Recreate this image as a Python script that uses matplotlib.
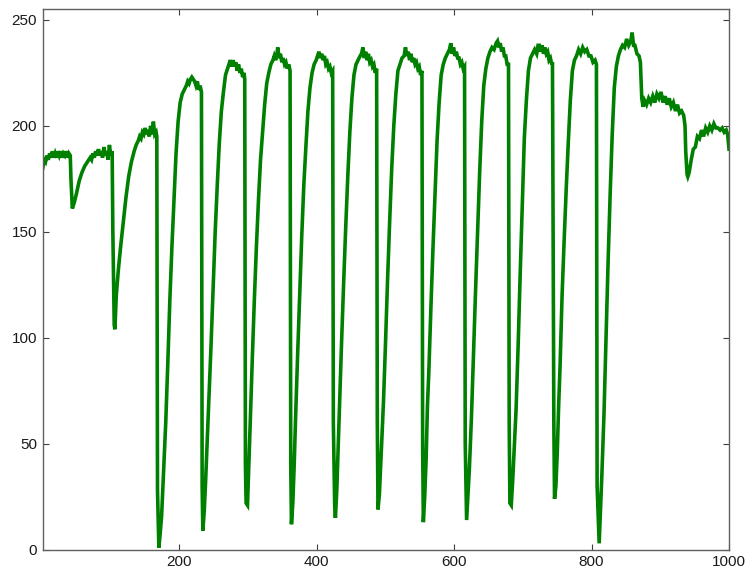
import numpy as np
import matplotlib
matplotlib.use("Agg")
import matplotlib.pyplot as plt

plt.rcParams["font.family"] = ["Liberation Sans", "DejaVu Sans"]

# Sample index / signal level, read section by section
lead_x = [1, 3, 5, 7, 9, 11, 13, 15, 17, 19, 21, 23, 25, 27, 29, 31, 33, 35, 37, 39, 41,
          42, 44, 47, 50, 54, 58, 62, 66, 70, 72, 74, 76, 78, 80, 82, 84, 86, 88, 90, 92,
          94, 96, 98, 100, 102, 103, 105, 106, 108, 111, 114, 118, 122, 126, 130, 134, 137,
          140, 142, 144, 146, 148, 150, 152, 154, 156, 158, 160, 162, 164, 166, 167]
lead_y = [180, 184, 183, 186, 184, 187, 185, 188, 185, 187, 185, 188, 186, 188, 185, 187,
          186, 188, 185, 187, 186, 175, 161, 164, 168, 174, 178, 181, 183, 185, 184, 187,
          185, 188, 186, 189, 186, 188, 185, 190, 186, 188, 184, 191, 186, 188, 150, 106,
          104, 120, 132, 142, 154, 166, 176, 183, 188, 191, 193, 195, 194, 197, 196, 199,
          196, 198, 195, 200, 196, 202, 196, 197, 195]

cyc_a_x = [168, 170, 172, 174, 177, 180, 183, 186, 189, 192, 195, 198, 201, 204, 207, 210,
           212, 214, 216, 218, 220, 222, 224, 226, 228, 230, 232]
cyc_a_y = [28, 1, 8, 16, 38, 60, 88, 118, 143, 165, 187, 202, 211, 215, 217, 219, 221, 220,
           222, 223, 222, 221, 219, 221, 217, 219, 216]

cyc_b_x = [233, 234, 236, 238, 240, 243, 246, 249, 252, 255, 258, 261, 264, 267, 270, 272,
           274, 276, 278, 280, 282, 284, 286, 288, 290, 292, 294, 295]
cyc_b_y = [30, 9, 18, 32, 48, 72, 97, 124, 150, 172, 192, 207, 216, 224, 227, 229, 231, 228,
           231, 228, 230, 226, 229, 225, 227, 223, 225, 222]

cyc_c_x = [296, 297, 299, 301, 303, 306, 309, 312, 315, 318, 321, 324, 327, 330, 333, 336,
           338, 340, 342, 343, 345, 347, 349, 351, 353, 355, 357, 359, 361]
cyc_c_y = [40, 22, 21, 40, 60, 90, 118, 143, 165, 184, 197, 210, 220, 225, 229, 231, 233,
           231, 234, 237, 232, 234, 230, 232, 229, 230, 227, 229, 226]

cyc_d_x = [362, 363, 365, 367, 369, 372, 375, 378, 381, 384, 387, 390, 393, 396, 399, 401,
           403, 405, 407, 409, 411, 413, 415, 417, 419, 421, 423]
cyc_d_y = [40, 12, 22, 40, 62, 92, 120, 148, 172, 190, 207, 218, 225, 229, 231, 233, 235,
           232, 234, 231, 233, 229, 230, 227, 228, 225, 226]

cyc_e_x = [424, 426, 427, 429, 431, 433, 436, 439, 442, 445, 448, 451, 454, 457, 460, 463,
           465, 467, 469, 471, 473, 475, 477, 479, 481, 483, 485, 487]
cyc_e_y = [60, 20, 15, 28, 48, 68, 98, 126, 152, 176, 197, 213, 224, 229, 231, 233, 234, 237,
           232, 235, 231, 234, 230, 231, 228, 229, 225, 227]

cyc_f_x = [488, 489, 491, 493, 495, 497, 500, 503, 506, 509, 512, 515, 518, 521, 524, 527,
           529, 531, 533, 535, 537, 539, 541, 543, 545, 547, 549, 551, 553]
cyc_f_y = [60, 19, 26, 40, 55, 70, 98, 128, 155, 180, 200, 215, 226, 229, 232, 233, 237, 233,
           235, 231, 234, 230, 232, 229, 230, 227, 228, 224, 226]

cyc_g_x = [554, 555, 557, 559, 561, 563, 566, 569, 572, 575, 578, 581, 584, 587, 590, 593,
           595, 597, 599, 601, 603, 605, 607, 609, 611, 613, 615]
cyc_g_y = [50, 13, 25, 42, 68, 84, 114, 142, 168, 193, 211, 224, 229, 232, 234, 236, 239,
           234, 237, 233, 235, 232, 232, 229, 230, 227, 228]

cyc_h_x = [616, 618, 620, 622, 625, 628, 631, 634, 637, 640, 643, 646, 649, 652, 655, 658,
           661, 663, 665, 667, 669, 671, 673, 675, 677, 679]
cyc_h_y = [50, 14, 26, 38, 62, 92, 122, 150, 178, 202, 219, 227, 232, 235, 237, 236, 239,
           240, 237, 239, 235, 237, 233, 233, 229, 229]

cyc_i_x = [680, 681, 683, 685, 687, 690, 693, 696, 699, 702, 705, 708, 711, 714, 717, 720,
           722, 724, 726, 728, 730, 732, 734, 736, 738, 740, 742, 743]
cyc_i_y = [60, 22, 21, 32, 46, 66, 96, 130, 162, 194, 212, 226, 232, 234, 236, 234, 238,
           238, 235, 238, 234, 237, 234, 235, 231, 232, 229, 230]

cyc_j_x = [745, 746, 748, 750, 752, 754, 757, 760, 763, 766, 769, 772, 775, 778, 781, 784,
           787, 790, 793, 796, 799, 802, 805, 807]
cyc_j_y = [60, 24, 30, 46, 68, 86, 120, 146, 170, 192, 212, 226, 231, 233, 236, 234, 237,
           235, 236, 233, 233, 230, 231, 229]

cyc_k_x = [808, 811, 813, 815, 818, 821, 824, 827, 830, 833, 836, 839, 842, 845, 848, 851,
           854, 857, 859, 861, 863, 866, 869, 871]
cyc_k_y = [30, 3, 20, 36, 64, 100, 136, 168, 196, 218, 228, 233, 236, 238, 237, 241, 238,
           240, 244, 238, 238, 234, 233, 230]

tail_x = [872, 873, 875, 877, 880, 883, 886, 889, 892, 895, 898, 901, 904, 907, 910, 913,
          916, 919, 922, 925, 928, 931, 934, 936, 937, 939, 940, 942, 945, 948, 951, 954,
          957, 960, 963, 966, 969, 972, 975, 978, 981, 984, 987, 990, 993, 996, 998, 1000]
tail_y = [222, 213, 209, 212, 210, 213, 211, 214, 211, 215, 213, 216, 211, 214, 210, 213,
          209, 211, 207, 210, 206, 207, 205, 200, 188, 177, 176, 178, 184, 189, 190, 195,
          194, 198, 195, 199, 197, 200, 198, 201, 199, 199, 198, 199, 197, 198, 196, 189]

sections = [(lead_x, lead_y), (cyc_a_x, cyc_a_y), (cyc_b_x, cyc_b_y), (cyc_c_x, cyc_c_y),
            (cyc_d_x, cyc_d_y), (cyc_e_x, cyc_e_y), (cyc_f_x, cyc_f_y), (cyc_g_x, cyc_g_y),
            (cyc_h_x, cyc_h_y), (cyc_i_x, cyc_i_y), (cyc_j_x, cyc_j_y), (cyc_k_x, cyc_k_y),
            (tail_x, tail_y)]
x = np.concatenate([s[0] for s in sections])
y = np.concatenate([s[1] for s in sections])

x_ticks = [200, 400, 600, 800, 1000]
y_ticks = [0, 50, 100, 150, 200, 250]

fig = plt.figure(figsize=(7.48, 5.77), dpi=100)
ax = fig.add_axes([0.0572, 0.0473, 0.9174, 0.9366])
ax.plot(x, y, color="#008000", linewidth=2.6, solid_joinstyle="miter")

ax.set_xlim(1, 1000)
ax.set_ylim(0, 255)
ax.set_xticks(x_ticks)
ax.set_yticks(y_ticks)
for s in ax.spines.values():
    s.set_color("#606060")
    s.set_linewidth(1.0)
ax.tick_params(direction="in", length=4.5, width=0.8, color="#404040",
               top=True, right=True, labelsize=11, labelcolor="#1a1a1a", pad=4)

fig.savefig("out.png", dpi=100)
